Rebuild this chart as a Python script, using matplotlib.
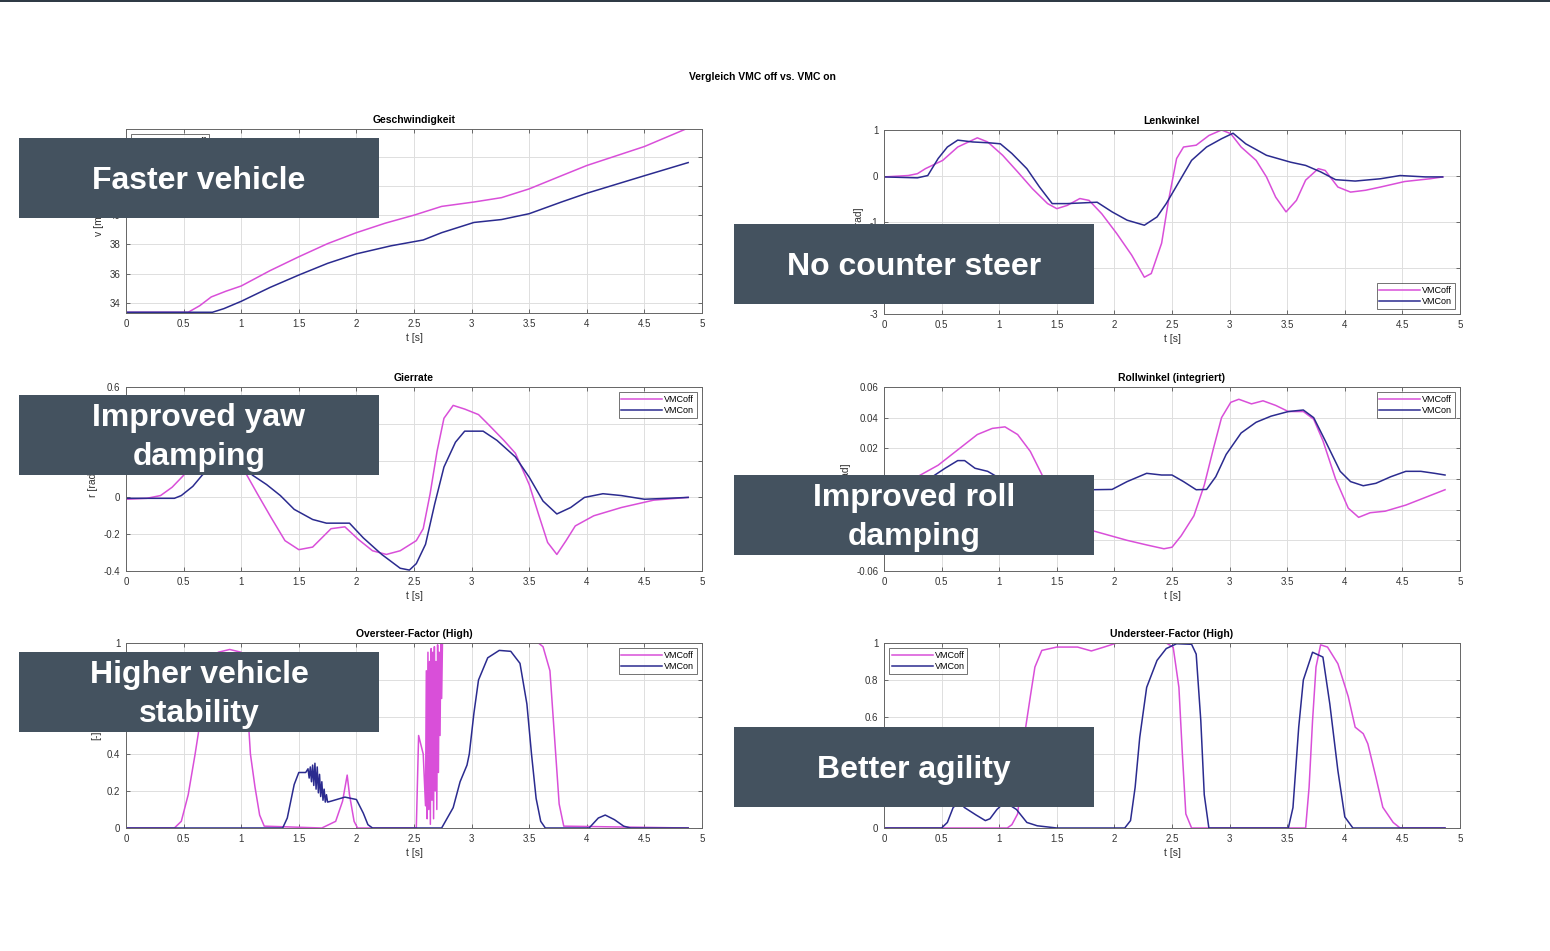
import matplotlib.pyplot as plt
from matplotlib.patches import Rectangle
from matplotlib.ticker import FuncFormatter

plt.rcParams['font.family'] = ['Liberation Sans', 'DejaVu Sans']

# Geschwindigkeit
t_v_off = [0, 0.3, 0.54, 0.64, 0.74, 0.87, 1.0, 1.25, 1.5, 1.75, 2.0, 2.25, 2.5, 2.74, 3.02, 3.26, 3.5, 3.78, 4.0, 4.25, 4.5, 4.86]
v_off = [33.35, 33.35, 33.35, 33.8, 34.4, 34.8, 35.15, 36.2, 37.15, 38.05, 38.8, 39.45, 40.0, 40.6, 40.9, 41.2, 41.8, 42.7, 43.4, 44.05, 44.7, 45.9]
t_v_on = [0, 0.4, 0.75, 0.85, 1.0, 1.25, 1.5, 1.75, 2.0, 2.3, 2.58, 2.74, 3.02, 3.26, 3.5, 3.78, 4.0, 4.25, 4.5, 4.88]
v_on = [33.35, 33.35, 33.35, 33.6, 34.1, 35.05, 35.9, 36.7, 37.35, 37.9, 38.3, 38.8, 39.5, 39.7, 40.1, 40.9, 41.5, 42.1, 42.7, 43.6]

# Lenkwinkel
t_d_off = [0, 0.21, 0.29, 0.36, 0.51, 0.64, 0.81, 0.9, 1.03, 1.16, 1.29, 1.42, 1.5, 1.59, 1.7, 1.78,
           1.89, 2.02, 2.15, 2.26, 2.32, 2.41, 2.47, 2.54, 2.6, 2.71, 2.82, 2.93, 3.01, 3.1, 3.23,
           3.32, 3.4, 3.49, 3.58, 3.66, 3.77, 3.83, 3.94, 4.05, 4.18, 4.31, 4.52, 4.74, 4.85]
d_off = [-0.02, 0.01, 0.05, 0.16, 0.34, 0.63, 0.83, 0.74, 0.45, 0.09, -0.28, -0.6, -0.71, -0.64, -0.49, -0.53,
         -0.82, -1.25, -1.72, -2.2, -2.12, -1.46, -0.53, 0.38, 0.63, 0.67, 0.88, 1.0, 0.92, 0.63, 0.34,
         -0.02, -0.46, -0.78, -0.53, -0.09, 0.16, 0.12, -0.24, -0.35, -0.31, -0.24, -0.12, -0.06, -0.02]
t_d_on = [0, 0.29, 0.38, 0.47, 0.55, 0.64, 0.77, 0.92, 1.01, 1.11, 1.24, 1.35, 1.46, 1.59, 1.85, 1.98,
          2.11, 2.26, 2.37, 2.45, 2.56, 2.67, 2.8, 2.93, 3.03, 3.14, 3.32, 3.53, 3.66, 3.79, 3.92,
          4.09, 4.31, 4.48, 4.7, 4.85]
d_on = [-0.02, -0.04, 0.01, 0.38, 0.63, 0.78, 0.74, 0.72, 0.7, 0.49, 0.16, -0.24, -0.6, -0.6, -0.57, -0.78,
        -0.96, -1.07, -0.89, -0.6, -0.13, 0.34, 0.63, 0.81, 0.93, 0.7, 0.45, 0.3, 0.23, 0.09, -0.08,
        -0.11, -0.06, 0.01, -0.02, -0.02]

# Gierrate
t_r_off = [0, 0.18, 0.3, 0.4, 0.5, 0.6, 0.75, 0.9, 1.05, 1.14, 1.26, 1.38, 1.5, 1.62, 1.78, 1.9, 2.02,
           2.14, 2.26, 2.38, 2.52, 2.58, 2.64, 2.7, 2.76, 2.84, 2.94, 3.06, 3.14, 3.28, 3.38, 3.5,
           3.58, 3.66, 3.74, 3.82, 3.9, 4.06, 4.3, 4.58, 4.88]
r_off = [-0.01, -0.005, 0.01, 0.055, 0.12, 0.22, 0.28, 0.27, 0.12, 0.02, -0.11, -0.235, -0.284, -0.27,
         -0.17, -0.16, -0.23, -0.29, -0.31, -0.29, -0.235, -0.17, 0.02, 0.25, 0.43, 0.5, 0.48, 0.45,
         0.4, 0.31, 0.24, 0.07, -0.09, -0.245, -0.31, -0.235, -0.155, -0.1, -0.055, -0.015, 0]
t_r_on = [0, 0.42, 0.48, 0.58, 0.66, 0.8, 0.95, 1.1, 1.22, 1.34, 1.46, 1.62, 1.74, 1.94, 2.06, 2.22, 2.38,
          2.46, 2.52, 2.6, 2.68, 2.76, 2.86, 2.94, 3.1, 3.22, 3.38, 3.5, 3.62, 3.74, 3.86, 3.98,
          4.14, 4.3, 4.5, 4.7, 4.88]
r_on = [-0.005, -0.005, 0.01, 0.06, 0.12, 0.2, 0.2, 0.12, 0.07, 0.01, -0.065, -0.12, -0.14, -0.14, -0.22,
        -0.31, -0.385, -0.395, -0.36, -0.255, -0.035, 0.165, 0.3, 0.36, 0.36, 0.31, 0.22, 0.11, -0.02,
        -0.09, -0.055, 0, 0.02, 0.01, -0.01, -0.005, 0]

# Rollwinkel (integriert)
t_p_off = [0, 0.29, 0.47, 0.64, 0.81, 0.94, 1.05, 1.16, 1.27, 1.37, 1.45, 1.55, 1.65, 1.8, 2.11, 2.28,
           2.43, 2.5, 2.58, 2.69, 2.78, 2.86, 2.93, 3.01, 3.08, 3.19, 3.29, 3.4, 3.51, 3.64, 3.73,
           3.81, 3.92, 4.03, 4.12, 4.22, 4.35, 4.53, 4.7, 4.87]
p_off = [0, 0.0015, 0.009, 0.019, 0.029, 0.033, 0.034, 0.029, 0.018, 0.003, -0.01, -0.022, -0.029,
         -0.0335, -0.04, -0.043, -0.0455, -0.0445, -0.037, -0.024, -0.004, 0.02, 0.04, 0.05, 0.052,
         0.049, 0.051, 0.048, 0.044, 0.044, 0.039, 0.025, 0.0, -0.019, -0.025, -0.022, -0.021,
         -0.017, -0.012, -0.007]
t_p_on = [0, 0.3, 0.42, 0.53, 0.64, 0.7, 0.79, 0.9, 0.98, 1.07, 1.3, 1.55, 1.8, 1.98, 2.11, 2.28, 2.41,
          2.5, 2.6, 2.71, 2.8, 2.88, 2.97, 3.1, 3.23, 3.36, 3.51, 3.64, 3.73, 3.83, 3.96, 4.05,
          4.16, 4.27, 4.4, 4.53, 4.66, 4.78, 4.87]
p_on = [0, 0, 0.0015, 0.007, 0.012, 0.012, 0.007, 0.005, 0.0015, 0.001, -0.004, -0.006, -0.007, -0.0068,
        -0.0017, 0.0037, 0.0026, 0.0026, -0.0017, -0.007, -0.0068, 0.0015, 0.016, 0.03, 0.037,
        0.041, 0.044, 0.045, 0.04, 0.025, 0.005, -0.0017, -0.0044, -0.0028, 0.0015, 0.005, 0.005,
        0.0037, 0.0026]

# Oversteer-Factor (High)
t_o_off = [0, 0.42, 0.48, 0.54, 0.6, 0.65, 0.72, 0.8, 0.9, 1.0, 1.04, 1.08, 1.12, 1.16, 1.2, 1.7, 1.82,
           1.88, 1.92, 1.94, 1.98, 2.01, 2.52, 2.54, 2.58, 2.6, 2.607, 2.614, 2.621, 2.628, 2.635,
           2.642, 2.649, 2.656, 2.663, 2.67, 2.677, 2.684, 2.691, 2.698, 2.705, 2.712, 2.719,
           2.726, 2.733, 2.74, 2.747, 2.76, 3.58, 3.62, 3.68, 3.72, 3.76, 3.8, 4.88]
o_off = [0, 0, 0.036, 0.18, 0.4, 0.6, 0.85, 0.95, 0.965, 0.95, 0.8, 0.4, 0.22, 0.07, 0.01, 0, 0.036,
         0.145, 0.286, 0.18, 0.036, 0, 0, 0.5, 0.4, 0.12, 0.85, 0.05, 0.95, 0.1, 0.9, 0.02, 0.97,
         0.15, 0.95, 0.05, 0.98, 0.2, 0.9, 0.1, 0.99, 0.3, 0.95, 0.5, 1.0, 0.7, 1.0, 1.0, 1.0, 0.98,
         0.85, 0.49, 0.13, 0.01, 0]
t_o_on = [0, 1.36, 1.4, 1.46, 1.5, 1.56, 1.58, 1.59, 1.6, 1.61, 1.62, 1.63, 1.64, 1.65, 1.66, 1.67,
          1.68, 1.69, 1.7, 1.71, 1.72, 1.73, 1.74, 1.75, 1.78, 1.9, 2.0, 2.06, 2.1, 2.14, 2.74,
          2.84, 2.9, 2.96, 2.98, 3.02, 3.06, 3.14, 3.24, 3.34, 3.42, 3.48, 3.52, 3.56, 3.6, 3.64,
          4.02, 4.1, 4.16, 4.24, 4.32, 4.38, 4.88]
o_on = [0, 0, 0.054, 0.235, 0.3, 0.3, 0.32, 0.27, 0.33, 0.25, 0.34, 0.23, 0.35, 0.21, 0.33, 0.19,
        0.29, 0.17, 0.25, 0.15, 0.21, 0.14, 0.18, 0.14, 0.145, 0.167, 0.154, 0.08, 0.018, 0, 0,
        0.11, 0.25, 0.34, 0.4, 0.62, 0.8, 0.92, 0.96, 0.955, 0.89, 0.67, 0.4, 0.16, 0.036, 0,
        0, 0.054, 0.07, 0.045, 0.01, 0, 0]

# Understeer-Factor (High)
t_u_off = [0, 1.07, 1.11, 1.16, 1.2, 1.23, 1.27, 1.31, 1.37, 1.5, 1.68, 1.8, 1.91, 2.02, 2.45, 2.51,
           2.56, 2.59, 2.62, 2.67, 3.66, 3.69, 3.72, 3.75, 3.79, 3.85, 3.94, 4.03, 4.09, 4.16, 4.2,
           4.27, 4.33, 4.42, 4.48, 4.87]
u_off = [0, 0, 0.018, 0.076, 0.3, 0.545, 0.71, 0.87, 0.96, 0.978, 0.978, 0.957, 0.978, 1.0, 1.0,
         0.978, 0.76, 0.4, 0.076, 0, 0, 0.22, 0.58, 0.87, 0.99, 0.978, 0.888, 0.71, 0.545, 0.51,
         0.455, 0.275, 0.112, 0.03, 0, 0]
t_u_on = [0, 0.5, 0.55, 0.6, 0.65, 0.7, 0.8, 0.88, 0.92, 0.98, 1.05, 1.15, 1.24, 1.33, 1.5, 2.09,
          2.14, 2.18, 2.22, 2.28, 2.37, 2.45, 2.54, 2.67, 2.71, 2.75, 2.78, 2.82, 3.51, 3.55, 3.6,
          3.64, 3.72, 3.81, 3.87, 3.94, 4.0, 4.07, 4.87]
u_on = [0, 0, 0.03, 0.11, 0.14, 0.11, 0.07, 0.04, 0.05, 0.1, 0.14, 0.1, 0.03, 0.012, 0, 0, 0.04, 0.22,
        0.49, 0.76, 0.906, 0.97, 0.996, 0.993, 0.94, 0.58, 0.18, 0, 0, 0.11, 0.545, 0.8, 0.95,
        0.924, 0.67, 0.31, 0.06, 0, 0]

# Annotation boxes
notes = ['Faster vehicle', 'No counter steer', 'Improved yaw\ndamping',
         'Improved roll\ndamping', 'Higher vehicle\nstability', 'Better agility']

W, H = 1550, 951
fig = plt.figure(figsize=(15.5, 9.51), dpi=100)

c_off = '#d94fd9'
c_on = '#2b2b8f'
box_c = '#44525f'


def px_rect(x0, y0, x1, y1):
    return [x0 / W, 1 - y1 / H, (x1 - x0) / W, (y1 - y0) / H]


def fmt(v, pos):
    s = ('%.2f' % v).rstrip('0').rstrip('.')
    return '0' if s in ('-0', '') else s


panels = [
    ('Geschwindigkeit', px_rect(126, 129, 702, 313), t_v_off, v_off, t_v_on, v_on,
     (33.3, 45.9), [34, 36, 38, 40, 42, 44], 'v [m/s]', 'upper left'),
    ('Lenkwinkel', px_rect(884, 130, 1460, 314), t_d_off, d_off, t_d_on, d_on,
     (-3, 1), [-3, -2, -1, 0, 1], 'δ [rad]', 'lower right'),
    ('Gierrate', px_rect(126, 387, 702, 571), t_r_off, r_off, t_r_on, r_on,
     (-0.4, 0.6), [-0.4, -0.2, 0, 0.2, 0.4, 0.6], 'r [rad/s]', 'upper right'),
    ('Rollwinkel (integriert)', px_rect(884, 387, 1460, 571), t_p_off, p_off, t_p_on, p_on,
     (-0.06, 0.06), [-0.06, -0.04, -0.02, 0, 0.02, 0.04, 0.06], 'φ [rad]', 'upper right'),
    ('Oversteer-Factor (High)', px_rect(126, 643, 702, 828), t_o_off, o_off, t_o_on, o_on,
     (0, 1), [0, 0.2, 0.4, 0.6, 0.8, 1], '[-]', 'upper right'),
    ('Understeer-Factor (High)', px_rect(884, 643, 1460, 828), t_u_off, u_off, t_u_on, u_on,
     (0, 1), [0, 0.2, 0.4, 0.6, 0.8, 1], '[-]', 'upper left'),
]

for title, rect, ta, ya, tb, yb, ylim, yticks, ylab, loc in panels:
    ax = fig.add_axes(rect)
    ax.plot(ta, ya, color=c_off, lw=1.1, label='VMCoff')
    ax.plot(tb, yb, color=c_on, lw=1.1, label='VMCon')
    ax.set_xlim(0, 5)
    ax.set_ylim(*ylim)
    ax.set_xticks([0, 0.5, 1, 1.5, 2, 2.5, 3, 3.5, 4, 4.5, 5])
    ax.set_yticks(yticks)
    ax.xaxis.set_major_formatter(FuncFormatter(fmt))
    ax.yaxis.set_major_formatter(FuncFormatter(fmt))
    ax.grid(True, color='#dedede', lw=0.7)
    ax.set_axisbelow(True)
    ax.tick_params(direction='in', top=True, right=True, length=3, width=0.6,
                   labelsize=7, labelcolor='#333333', color='#555555', pad=4)
    for s in ax.spines.values():
        s.set_color('#666666')
        s.set_linewidth(0.7)
    ax.set_title(title, fontsize=7.5, fontweight='bold', pad=4)
    ax.set_xlabel('t [s]', fontsize=7.5, color='#333333', labelpad=3)
    ax.set_ylabel(ylab, fontsize=7.5, color='#333333', labelpad=4)
    leg = ax.legend(loc=loc, fontsize=6.5, frameon=True, fancybox=False,
                    handlelength=4.5, borderpad=0.3, labelspacing=0.2, handletextpad=0.2,
                    borderaxespad=0.6)
    leg.get_frame().set_edgecolor('#333333')
    leg.get_frame().set_linewidth(0.6)

fig.text(762 / W, 1 - 77 / H, 'Vergleich VMC off vs. VMC on', fontsize=7.5,
         fontweight='bold', ha='center', va='center')

# top bar
fig.add_artist(Rectangle((0, 1 - 2 / H), 1, 2 / H, transform=fig.transFigure,
                         color='#2f3a45', lw=0, zorder=10))

box_pos = [(19, 138), (734, 224), (19, 395), (734, 475), (19, 652), (734, 727)]
for (x0, y0), txt in zip(box_pos, notes):
    r = px_rect(x0, y0, x0 + 360, y0 + 80)
    fig.text(r[0] + r[2] / 2, r[1] + r[3] / 2 - 0.003, txt, color='white', fontsize=23,
             fontweight='bold', ha='center', va='center', linespacing=1.4, zorder=21)
    fig.add_artist(Rectangle((r[0], r[1]), r[2], r[3], transform=fig.transFigure,
                             color=box_c, lw=0, zorder=20))

fig.savefig('out.png', dpi=100)
